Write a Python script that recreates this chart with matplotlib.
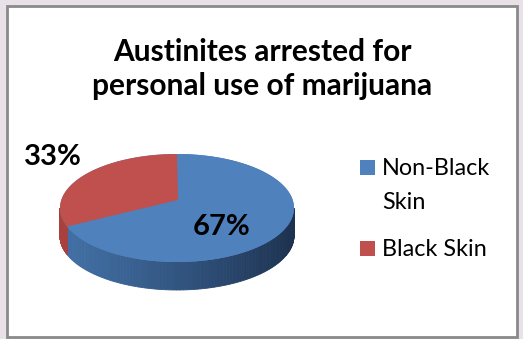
import matplotlib
matplotlib.use("Agg")
import matplotlib.pyplot as plt
from matplotlib.patches import Polygon, Rectangle
import numpy as np

# --- データ ---
labels = ["Non-Black\nSkin", "Black Skin"]
values = [67, 33]
top_colors = ["#4f81bd", "#c0504d"]
side_light = ["#4270a6", "#a8403e"]
side_dark = ["#1d3250", "#7a2a28"]
title = "Austinites arrested for\npersonal use of marijuana"

plt.rcParams['font.family'] = ['Lato', 'DejaVu Sans']

W, H = 523, 339
fig = plt.figure(figsize=(W / 100, H / 100), dpi=100, facecolor="#e8e1e8")
ax = fig.add_axes([0, 0, 1, 1])
ax.set_xlim(0, W)
ax.set_ylim(H, 0)
ax.axis("off")

# 枠
ax.add_patch(Rectangle((7, 6), 510, 331, facecolor="white", edgecolor="#8a8a8a", lw=2))

# --- 楕円パイ ---
cx, cy = 177, 208
rx, ry = 117, 54
depth = 28
apex = (178, 200)  # 扇の中心（遠近で少し上）
warp = np.radians(10.4)  # 手前側が広がって見える分


def pt(th, dy=0):
    th = th - warp * np.sin(2 * th)
    return cx + rx * np.cos(th), cy - ry * np.sin(th) + dy


# 開始は12時、時計回り
total = sum(values)
starts = []
a = 90.0
for v in values:
    span = 360.0 * v / total
    starts.append((a - span, a))
    a -= span

# 側面（手前側だけ見える）
for i, (a0, a1) in enumerate(starts):
    lo, hi = np.radians(a0), np.radians(a1)
    lo2 = lo % (2 * np.pi)
    hi2 = lo2 + (hi - lo)
    seg_lo = max(lo2, np.pi)
    seg_hi = min(hi2, 2 * np.pi)
    if seg_hi <= seg_lo:
        continue
    ths = np.linspace(seg_lo, seg_hi, 120)
    c0 = np.array(matplotlib.colors.to_rgb(side_light[i]))
    c1 = np.array(matplotlib.colors.to_rgb(side_dark[i]))
    for t0, t1 in zip(ths[:-1], ths[1:]):
        x_mid = (pt(t0)[0] + pt(t1)[0]) / 2
        f = np.clip((x_mid - (cx - rx)) / (2 * rx), 0, 1) ** 1.2
        col = c0 + (c1 - c0) * f
        p = [pt(t0), pt(t1), pt(t1, depth), pt(t0, depth)]
        ax.add_patch(Polygon(p, closed=True, facecolor=col, edgecolor=col, lw=0.6))

# 上面（楕円全体を青で塗ってから各扇）
full = np.linspace(0, 2 * np.pi, 400)
ax.add_patch(Polygon([pt(t) for t in full], closed=True, facecolor=top_colors[0], edgecolor="none"))
for i, (a0, a1) in enumerate(starts):
    ths = np.radians(np.linspace(a0, a1, 200))
    p = [apex] + [pt(t) for t in ths]
    ax.add_patch(Polygon(p, closed=True, facecolor=top_colors[i], edgecolor="none"))

# パーセント表示
ax.text(222, 227, f"{values[0]}%", fontsize=21, fontweight="bold", ha="center", va="center")
ax.text(53, 157, f"{values[1]}%", fontsize=21, fontweight="bold", ha="center", va="center")

# タイトル
ax.text(262, 69, title, fontsize=21.5, fontweight="bold", ha="center", va="center",
        linespacing=1.3)

# 凡例
leg_y = [167, 248]
for i, lab in enumerate(labels):
    ax.add_patch(Rectangle((360, leg_y[i] - 7.5), 15, 15, facecolor=top_colors[i], edgecolor="none"))
    ax.text(382, leg_y[i] - 9, lab, fontsize=16.8, ha="left", va="top", linespacing=1.75)

fig.savefig("out.png", dpi=100, facecolor=fig.get_facecolor())
